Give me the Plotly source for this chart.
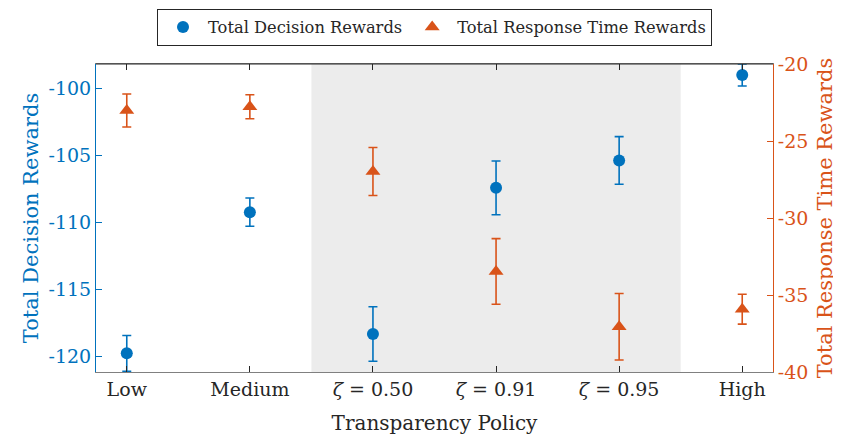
import plotly.graph_objects as go

categories = ["Low", "Medium", "<i>ζ</i> = 0.50", "<i>ζ</i> = 0.91", "<i>ζ</i> = 0.95", "High"]
x_pos = [1, 2, 3, 4, 5, 6]

decision_mean = [-119.75, -109.24, -118.31, -107.43, -105.39, -99.03]
decision_err = [1.33, 1.05, 2.03, 2.0, 1.77, 0.82]

response_mean = [-23.02, -22.78, -26.98, -33.47, -37.06, -35.92]
response_err = [1.07, 0.78, 1.56, 2.13, 2.16, 0.97]

left_ticks = [-120, -115, -110, -105, -100]
right_ticks = [-40, -35, -30, -25, -20]

BLUE = "#0072BD"
ORANGE = "#D95319"
FONT = "DejaVu Serif"

fig = go.Figure()

fig.add_trace(go.Scatter(
    x=x_pos, y=decision_mean, mode="markers", name="Total Decision Rewards",
    marker=dict(symbol="circle", size=12, color=BLUE),
    error_y=dict(type="data", array=decision_err, visible=True, color=BLUE, thickness=1.6, width=4.5),
    yaxis="y", cliponaxis=True,
))
fig.add_trace(go.Scatter(
    x=x_pos, y=response_mean, mode="markers", name="Total Response Time Rewards",
    marker=dict(symbol="triangle-up", size=13, color=ORANGE),
    error_y=dict(type="data", array=response_err, visible=True, color=ORANGE, thickness=1.6, width=4.5),
    yaxis="y2", cliponaxis=True,
))

fig.add_shape(type="rect", xref="x", yref="paper", x0=2.5, x1=5.5, y0=0, y1=1,
              fillcolor="#ececec", line=dict(width=0), layer="below")
fig.add_shape(type="line", xref="paper", yref="paper", x0=0, x1=1, y0=1, y1=1,
              line=dict(color="#262626", width=1))

fig.update_layout(
    width=833, height=428,
    margin=dict(l=88, r=68, t=56, b=64, autoexpand=False),
    paper_bgcolor="white", plot_bgcolor="white",
    font=dict(family=FONT, size=19, color="#262626"),
    showlegend=True,
    legend=dict(orientation="h", x=0.5, xanchor="center", y=0.998, yanchor="top",
                yref="container", bordercolor="#262626", borderwidth=1,
                bgcolor="white", font=dict(size=16.3, family=FONT, color="#262626"),
                itemwidth=40, tracegroupgap=0),
    xaxis=dict(range=[0.75, 6.25], tickvals=x_pos, ticktext=categories,
               ticks="inside", ticklen=6, tickcolor="#262626", showline=True,
               linecolor="#808080", linewidth=1.2, mirror="ticks", showgrid=False, zeroline=False,
               automargin=False,
               title=dict(text="Transparency Policy", font=dict(size=20), standoff=17),
               tickfont=dict(size=19, color="#262626")),
    yaxis=dict(range=[-121.14, -98.21], tickvals=left_ticks, ticktext=[str(v) for v in left_ticks],
               ticks="inside", ticklen=6, tickcolor=BLUE, showline=True, linecolor=BLUE,
               showgrid=False, zeroline=False, color=BLUE, automargin=False,
               title=dict(text="Total Decision Rewards", font=dict(size=21, color=BLUE), standoff=4),
               tickfont=dict(size=19, color=BLUE)),
    yaxis2=dict(range=[-40, -20], tickvals=right_ticks, ticktext=[str(v) for v in right_ticks],
                overlaying="y", side="right", anchor="x", automargin=False,
                ticks="inside", ticklen=6, tickcolor=ORANGE, showline=True, linecolor=ORANGE,
                showgrid=False, zeroline=False, color=ORANGE,
                title=dict(text="Total Response Time Rewards", font=dict(size=21, color=ORANGE), standoff=9),
                tickfont=dict(size=19, color=ORANGE)),
)

fig.write_html("out.html")
